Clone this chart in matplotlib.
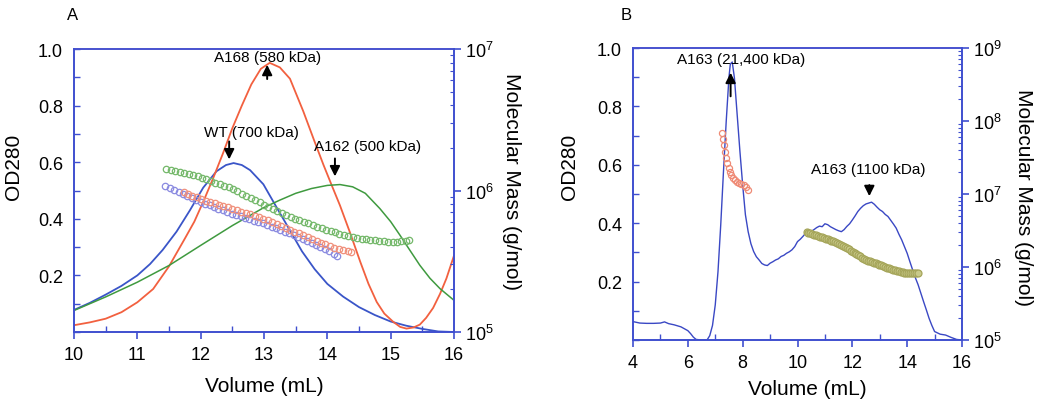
import matplotlib.pyplot as plt
import numpy as np
from matplotlib.ticker import MultipleLocator, LogLocator, NullFormatter

plt.rcParams['font.family'] = ['Liberation Sans', 'DejaVu Sans']
plt.rcParams['mathtext.fontset'] = 'custom'
plt.rcParams['mathtext.rm'] = 'Liberation Sans'

### Panel A: OD280 traces
a_wt_x = [10, 10.25, 10.5, 10.75, 11, 11.2, 11.4, 11.62, 11.83, 12.04, 12.25, 12.4, 12.52, 12.65, 12.78,
          12.99, 13.2, 13.41, 13.6, 13.8, 14, 14.25, 14.5, 14.75, 15, 15.25, 15.5, 15.75, 16]
a_wt_y = [0.078, 0.103, 0.132, 0.163, 0.2, 0.24, 0.29, 0.355, 0.43, 0.51, 0.568, 0.59, 0.597, 0.59, 0.572,
          0.522, 0.44, 0.359, 0.285, 0.222, 0.17, 0.125, 0.088, 0.06, 0.037, 0.022, 0.011, 0.002, 0.0]

a_168_x = [10, 10.25, 10.5, 10.75, 11, 11.25, 11.5, 11.75, 11.9, 12.05, 12.2, 12.35, 12.5, 12.65, 12.8,
           12.95, 13.09, 13.25, 13.41, 13.62, 13.8, 13.94, 14.07, 14.2, 14.36, 14.52, 14.65, 14.78, 14.9,
           15.04, 15.15, 15.25, 15.36, 15.46, 15.56, 15.67, 15.78, 15.88, 16]
a_168_y = [0.024, 0.034, 0.047, 0.07, 0.105, 0.152, 0.232, 0.33, 0.39, 0.465, 0.545, 0.63, 0.72, 0.8, 0.875,
           0.93, 0.951, 0.935, 0.895, 0.78, 0.672, 0.59, 0.518, 0.447, 0.35, 0.248, 0.17, 0.106, 0.065,
           0.036, 0.018, 0.012, 0.016, 0.026, 0.05, 0.085, 0.135, 0.189, 0.27]

a_162_x = [10, 10.5, 11, 11.5, 12, 12.5, 13, 13.25, 13.5, 13.75, 14, 14.2, 14.4, 14.6, 14.83, 15, 15.15,
           15.3, 15.46, 15.62, 15.78, 16]
a_162_y = [0.076, 0.124, 0.176, 0.235, 0.306, 0.376, 0.44, 0.466, 0.49, 0.507, 0.518, 0.521, 0.513, 0.49,
           0.436, 0.39, 0.341, 0.29, 0.236, 0.19, 0.153, 0.112]

### Panel A: molar mass (log10 g/mol)
a_m162_x = [11.46, 11.53, 11.60, 11.67, 11.74, 11.81, 11.88, 11.95, 12.02, 12.09, 12.16, 12.23, 12.30, 12.37,
            12.44, 12.51, 12.58, 12.65, 12.72, 12.79, 12.86, 12.93, 13.00, 13.07, 13.14, 13.21, 13.28, 13.35,
            13.42, 13.49, 13.56, 13.63, 13.70, 13.77, 13.84, 13.91, 13.98, 14.05, 14.12, 14.19, 14.26, 14.33,
            14.40, 14.47, 14.54, 14.61, 14.68, 14.75, 14.82, 14.89, 14.96, 15.03, 15.10, 15.17, 15.24, 15.29]
a_m162_y = [6.153, 6.145, 6.138, 6.130, 6.122, 6.115, 6.107, 6.099, 6.091, 6.079, 6.068, 6.056, 6.045, 6.033,
            6.022, 6.010, 5.994, 5.978, 5.963, 5.947, 5.931, 5.916, 5.900, 5.886, 5.872, 5.858, 5.844, 5.830,
            5.816, 5.802, 5.790, 5.779, 5.767, 5.756, 5.744, 5.733, 5.721, 5.712, 5.704, 5.696, 5.688, 5.680,
            5.672, 5.663, 5.658, 5.654, 5.650, 5.648, 5.644, 5.640, 5.637, 5.636, 5.638, 5.641, 5.644, 5.647]

a_mwt_x = [11.44, 11.51, 11.58, 11.65, 11.72, 11.79, 11.86, 11.93, 12.00, 12.07, 12.14, 12.21, 12.28, 12.35,
           12.42, 12.49, 12.56, 12.63, 12.70, 12.77, 12.84, 12.91, 12.98, 13.05, 13.12, 13.19, 13.26, 13.33,
           13.40, 13.47, 13.54, 13.61, 13.68, 13.75, 13.82, 13.89, 13.96, 14.03, 14.10, 14.16]
a_mwt_y = [6.035, 6.020, 6.006, 5.991, 5.976, 5.962, 5.947, 5.933, 5.918, 5.906, 5.895, 5.883, 5.872, 5.860,
           5.848, 5.837, 5.827, 5.817, 5.807, 5.797, 5.787, 5.778, 5.768, 5.757, 5.745, 5.733, 5.721, 5.709,
           5.697, 5.685, 5.672, 5.657, 5.643, 5.628, 5.613, 5.599, 5.584, 5.570, 5.553, 5.540]

a_m168_x = [11.73, 11.80, 11.87, 11.94, 12.01, 12.08, 12.15, 12.22, 12.29, 12.36, 12.43, 12.50, 12.57, 12.64,
            12.71, 12.78, 12.85, 12.92, 12.99, 13.06, 13.13, 13.20, 13.27, 13.34, 13.41, 13.48, 13.55, 13.62,
            13.69, 13.76, 13.83, 13.90, 13.97, 14.04, 14.11, 14.18, 14.25, 14.32, 14.38]
a_m168_y = [5.990, 5.977, 5.964, 5.951, 5.939, 5.929, 5.919, 5.909, 5.899, 5.890, 5.880, 5.870, 5.860, 5.850,
            5.841, 5.831, 5.821, 5.811, 5.801, 5.789, 5.776, 5.762, 5.749, 5.736, 5.723, 5.710, 5.697, 5.684,
            5.671, 5.658, 5.645, 5.632, 5.619, 5.606, 5.596, 5.588, 5.580, 5.573, 5.568]

### Panel B: OD280 trace
b_163_x = [4.0, 4.25, 4.5, 4.75, 5.0, 5.15, 5.3, 5.5, 5.75, 6.0, 6.1, 6.2, 6.3, 6.5, 6.7, 6.8, 6.9, 7.0, 7.1,
           7.2, 7.3, 7.4, 7.5, 7.55, 7.62, 7.7, 7.8, 7.9, 8.0, 8.1, 8.2, 8.3, 8.4, 8.5, 8.6, 8.7, 8.8, 8.9,
           9.0, 9.1, 9.2, 9.3, 9.4, 9.5, 9.6, 9.7, 9.8, 9.9, 10.0, 10.1, 10.2, 10.3, 10.4, 10.5, 10.6, 10.7,
           10.8, 10.9, 11.0, 11.1, 11.2, 11.3, 11.4, 11.5, 11.6, 11.7, 11.8, 11.9, 12.0, 12.1, 12.2, 12.3,
           12.4, 12.5, 12.6, 12.7, 12.8, 12.9, 13.0, 13.1, 13.2, 13.3, 13.4, 13.5, 13.6, 13.7, 13.8, 13.9,
           14.0, 14.1, 14.2, 14.3, 14.4, 14.5, 14.6, 14.7, 14.8, 14.9, 15.0, 15.2, 15.4, 15.6, 15.8, 16.0]
b_163_y = [0.063, 0.058, 0.057, 0.057, 0.058, 0.062, 0.056, 0.052, 0.045, 0.032, 0.022, 0.01, 0.002, 0.0,
           0.0, 0.015, 0.05, 0.12, 0.234, 0.394, 0.577, 0.749, 0.90, 0.945, 0.952, 0.897, 0.771, 0.646,
           0.531, 0.429, 0.371, 0.33, 0.303, 0.285, 0.274, 0.262, 0.257, 0.255, 0.263, 0.268, 0.274, 0.278,
           0.286, 0.29, 0.297, 0.302, 0.309, 0.32, 0.337, 0.345, 0.355, 0.366, 0.368, 0.372, 0.378, 0.385,
           0.39, 0.388, 0.398, 0.395, 0.388, 0.383, 0.378, 0.374, 0.371, 0.378, 0.389, 0.398, 0.411, 0.425,
           0.44, 0.451, 0.46, 0.466, 0.469, 0.472, 0.465, 0.455, 0.446, 0.44, 0.43, 0.423, 0.41, 0.397,
           0.383, 0.362, 0.343, 0.32, 0.297, 0.268, 0.24, 0.213, 0.189, 0.16, 0.131, 0.103, 0.074, 0.05,
           0.029, 0.02, 0.017, 0.009, 0.002, 0.0]

### Panel B: molar mass (log10 g/mol)
b_mbig_x = [7.23, 7.27, 7.31, 7.35, 7.40, 7.44, 7.49, 7.54, 7.59, 7.65, 7.71, 7.78, 7.86, 7.95, 8.04, 8.11, 8.19]
b_mbig_y = [7.834, 7.75, 7.674, 7.58, 7.49, 7.42, 7.354, 7.30, 7.26, 7.225, 7.194, 7.17, 7.15, 7.135, 7.12,
            7.09, 7.057]

b_msmall_x = [10.33, 10.40, 10.47, 10.54, 10.61, 10.68, 10.75, 10.82, 10.89, 10.96, 11.03, 11.10, 11.17,
              11.24, 11.31, 11.38, 11.45, 11.52, 11.59, 11.66, 11.73, 11.80, 11.87, 11.94, 12.01, 12.08,
              12.15, 12.22, 12.29, 12.36, 12.43, 12.50, 12.57, 12.64, 12.71, 12.78, 12.85, 12.92, 12.99,
              13.06, 13.13, 13.20, 13.27, 13.34, 13.41, 13.48, 13.55, 13.62, 13.69, 13.76, 13.83, 13.90,
              13.97, 14.04, 14.11, 14.18, 14.25, 14.32, 14.40]
b_msmall_y = [6.477, 6.468, 6.460, 6.451, 6.442, 6.434, 6.425, 6.416, 6.408, 6.399, 6.390, 6.380, 6.371,
              6.361, 6.352, 6.342, 6.333, 6.321, 6.305, 6.289, 6.273, 6.256, 6.240, 6.224, 6.208, 6.192,
              6.176, 6.160, 6.144, 6.129, 6.113, 6.097, 6.088, 6.078, 6.069, 6.059, 6.050, 6.041, 6.031,
              6.022, 6.012, 6.002, 5.992, 5.982, 5.973, 5.963, 5.955, 5.949, 5.942, 5.936, 5.930, 5.923,
              5.917, 5.914, 5.913, 5.912, 5.912, 5.913, 5.914]

od_ticks = [0.2, 0.4, 0.6, 0.8, 1.0]
spine_c = "#3f4fcf"
W, H = 1050, 410


def style_axes(ax, ax2):
	for a in (ax, ax2):
		for s in a.spines.values():
			s.set_color(spine_c)
			s.set_linewidth(1.2)
	ax.spines['top'].set_color("#7a5fd0")
	ax.set_ylim(0, 1.0)
	ax.set_yticks(od_ticks)
	ax.yaxis.set_minor_locator(MultipleLocator(0.1))
	ax.tick_params(axis='x', which='major', direction='out', length=5, width=1.2, color=spine_c, labelsize=13, pad=5)
	ax.tick_params(axis='x', which='minor', direction='in', length=4, width=1, color=spine_c)
	ax.tick_params(axis='y', which='both', direction='in', length=4, width=1, color=spine_c, labelsize=13, pad=8)
	ax2.set_yscale('log')
	ax2.tick_params(axis='y', which='major', direction='out', length=5, width=1.2, color=spine_c, labelsize=13, pad=3)
	ax2.tick_params(axis='y', which='minor', direction='in', length=3, width=0.8, color=spine_c)
	ax2.yaxis.set_minor_locator(LogLocator(base=10, subs=np.arange(2, 10)))
	ax2.yaxis.set_minor_formatter(NullFormatter())


def arrow(ax, x, y_tail, y_head):
	ax.annotate('', xy=(x, y_head), xytext=(x, y_tail),
				arrowprops=dict(arrowstyle='-|>', color='black', lw=1.4, mutation_scale=15))


fig = plt.figure(figsize=(W / 100, H / 100), dpi=100)

### Panel A
axA = fig.add_axes([74 / W, (H - 333) / H, 380 / W, 283 / H])
axA2 = axA.twinx()
axA.plot(a_wt_x, a_wt_y, color="#3a55c8", lw=1.3)
axA.plot(a_168_x, a_168_y, color="#f2603f", lw=1.3)
axA.plot(a_162_x, a_162_y, color="#3f9a3f", lw=1.1)
axA2.plot(a_m162_x, 10 ** np.array(a_m162_y), 'o', mfc='none', mec="#74b86a", ms=4.6, mew=0.9)
axA2.plot(a_mwt_x, 10 ** np.array(a_mwt_y), 'o', mfc='none', mec="#8a8ae0", ms=4.6, mew=0.9)
axA2.plot(a_m168_x, 10 ** np.array(a_m168_y), 'o', mfc='none', mec="#f0907c", ms=4.6, mew=0.9)
axA.set_xlim(10, 16)
axA.xaxis.set_minor_locator(MultipleLocator(0.5))
style_axes(axA, axA2)
axA2.set_ylim(1e5, 1e7)

arrow(axA, 13.05, 0.884, 0.954)
axA.text(13.05, 0.97, "A168 (580 kDa)", ha='center', va='center', fontsize=11)
arrow(axA, 12.45, 0.683, 0.6)
axA.text(12.8, 0.707, "WT (700 kDa)", ha='center', va='center', fontsize=11)
arrow(axA, 14.12, 0.623, 0.54)
axA.text(14.64, 0.658, "A162 (500 kDa)", ha='center', va='center', fontsize=11)

### Panel B
axB = fig.add_axes([633 / W, (H - 341) / H, 329 / W, 292 / H])
axB2 = axB.twinx()
axB.plot(b_163_x, b_163_y, color="#3a48c4", lw=1.0)
axB2.plot(b_mbig_x, 10 ** np.array(b_mbig_y), 'o', mfc='none', mec="#ef8a75", ms=4.4, mew=0.9)
axB2.plot(b_msmall_x, 10 ** np.array(b_msmall_y), 'o', mfc="#c9c98a", mec="#a5a55a", ms=5, mew=0.9)
axB.set_xlim(4, 16)
axB.set_xticks([4, 6, 8, 10, 12, 14, 16])
axB.xaxis.set_minor_locator(MultipleLocator(1))
style_axes(axB, axB2)
axB2.set_ylim(1e5, 1e9)

arrow(axB, 7.56, 0.825, 0.925)
axB.text(7.94, 0.962, "A163 (21,400 kDa)", ha='center', va='center', fontsize=11)
arrow(axB, 12.62, 0.54, 0.483)
axB.text(12.59, 0.586, "A163 (1100 kDa)", ha='center', va='center', fontsize=11)

### Labels
fig.text(73 / W, 1 - 15 / H, "A", ha='center', va='center', fontsize=12)
fig.text(626 / W, 1 - 15 / H, "B", ha='center', va='center', fontsize=12)
fig.text(13 / W, 1 - 167 / H, "OD280", rotation=90, ha='center', va='center', fontsize=15)
fig.text(512 / W, 1 - 182 / H, "Molecular Mass (g/mol)", rotation=270, ha='center', va='center', fontsize=15)
fig.text(264 / W, 1 - 387 / H, "Volume (mL)", ha='center', va='center', fontsize=15)
fig.text(570 / W, 1 - 167 / H, "OD280", rotation=90, ha='center', va='center', fontsize=15)
fig.text(1023 / W, 1 - 198 / H, "Molecular Mass (g/mol)", rotation=270, ha='center', va='center', fontsize=15)
fig.text(807 / W, 1 - 390 / H, "Volume (mL)", ha='center', va='center', fontsize=15)

plt.savefig("out.png", dpi=100)
